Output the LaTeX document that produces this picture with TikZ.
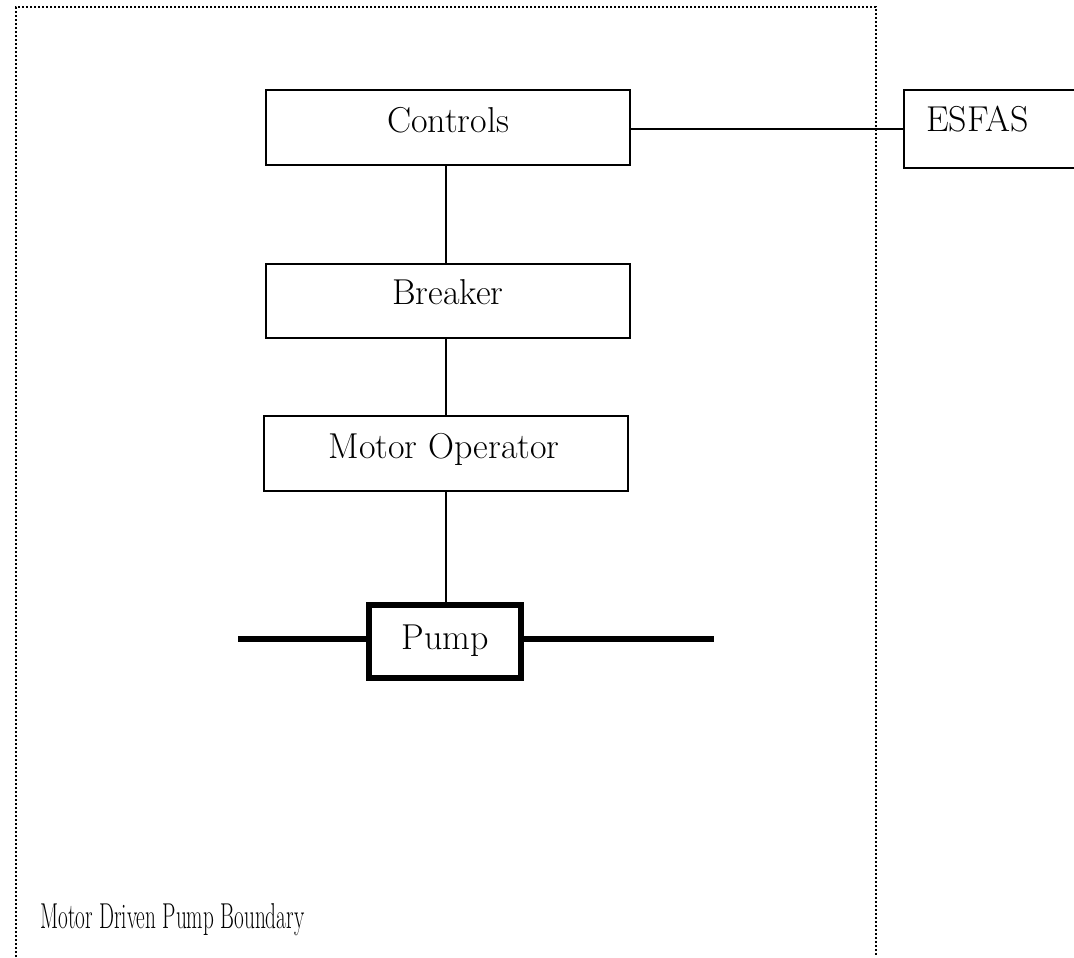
\documentclass[tikz,border=0pt]{standalone}
\usetikzlibrary{fit}
\begin{document}
\begin{tikzpicture}[x=0.75pt,y=-0.75pt,
  box/.style={draw=black,line width=1.5pt,inner sep=0pt,rectangle},
  pumpbox/.style={draw=black,line width=4.5pt,inner sep=0pt,rectangle},
  lbl/.style={inner sep=0pt,font=\fontsize{27}{32}\selectfont},
  wire/.style={draw=black,line width=1.5pt},
  pipe/.style={draw=black,line width=4.2pt},
  boundary/.style={draw=black,line width=1.2pt,dash pattern=on 1.5pt off 1.5pt}]
\useasboundingbox (0,0) rectangle (1074,957);
% boundary
\coordinate (bl) at (16,957);
\coordinate (tl) at (16,7);
\coordinate (tr) at (876,7);
\coordinate (br) at (876,957);
\draw[boundary] (bl) -- (tl) -- (tr) -- (br);
% boxes
\node[box,fit={(266,90) (630,165)}] (ctrl) {};
\node[box,fit={(266,264) (630,338)}] (brk) {};
\node[box,fit={(264,416) (628,491)}] (mo) {};
\node[pumpbox,fit={(369,605) (521,678)}] (pump) {};
\node[box,fit={(904,90) (1090,168)}] (esfas) {};
% labels
\node[lbl,anchor=base] (ctrlt) at (448,132) {Controls};
\node[lbl,anchor=base] (brkt) at (448,304) {Breaker};
\node[lbl,anchor=base] (mot) at (444,458) {Motor Operator};
\node[lbl,anchor=base] (pumpt) at (445,649) {Pump};
\node[lbl,anchor=base west] (esfast) at (926,131) {ESFAS};
\node[lbl,anchor=base west] (bndt) at (40,928) {\scalebox{0.59}[1]{Motor Driven Pump Boundary}};
% connectors
\draw[wire] (ctrl.east |- 0,129) -- (esfas.west |- 0,129);
\draw[wire] (ctrl.south -| 446,0) -- (brk.north -| 446,0);
\draw[wire] (brk.south -| 446,0) -- (mo.north -| 446,0);
\draw[wire] (mo.south -| 446,0) -- (pump.north -| 446,0);
\coordinate (pin) at (238,639);
\coordinate (pout) at (714,639);
\draw[pipe] (pin) -- (pump.west |- pin);
\draw[pipe] (pump.east |- pout) -- (pout);
\end{tikzpicture}
\end{document}
